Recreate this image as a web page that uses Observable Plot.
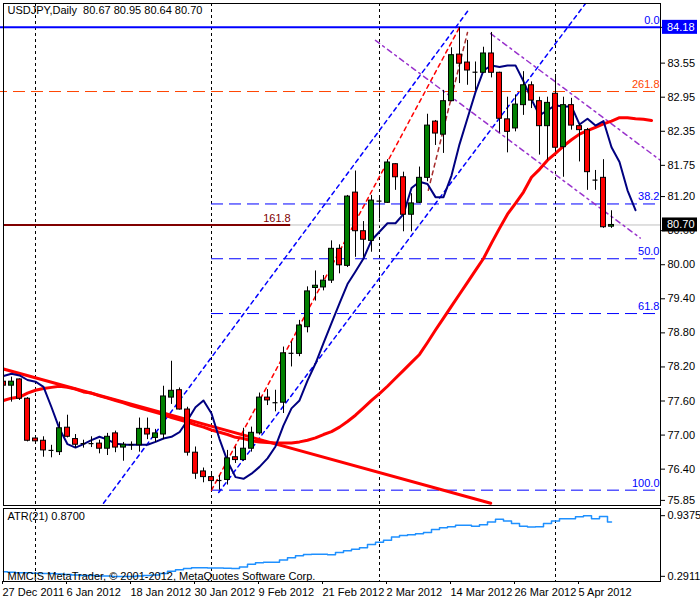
<!DOCTYPE html>
<html><head><meta charset="utf-8">
<script src="https://cdn.jsdelivr.net/npm/d3@7"></script>
<script src="https://cdn.jsdelivr.net/npm/@observablehq/plot@0.6"></script>
<style>
body{margin:0;background:#fff;}
#wrap{position:relative;width:700px;height:600px;background:#fff;}
#wrap svg{position:absolute;left:0;overflow:visible;}
</style></head><body><div id="wrap"></div>
<script>
// ---- data (bar index 0 = 27 Dec 2011, daily bars) ----
const opens  = [77.94,77.87,77.98,77.64,76.94,76.90,76.73,76.70,77.13,76.93,76.85,76.85,76.85,76.76,77.03,76.78,76.83,76.82,77.11,76.95,77.01,77.66,77.79,77.45,76.69,76.36,76.26,76.20,76.21,76.61,76.56,76.76,77.03,77.66,77.57,77.57,78.44,78.43,78.90,79.59,79.60,79.72,80.28,79.98,81.27,80.59,80.42,81.12,81.09,81.77,81.54,80.88,81.09,81.53,82.52,82.29,82.88,83.70,83.56,83.39,83.38,83.72,83.38,82.56,82.40,82.81,83.16,82.88,82.44,83.01,82.07,82.81,82.44,82.37,81.49,81.53,80.67];
const highs  = [78.00,78.02,77.99,77.66,76.97,76.97,76.82,77.23,77.35,77.01,76.91,76.97,76.91,77.03,77.07,76.87,76.88,77.30,77.30,77.10,77.86,78.30,77.83,77.49,76.79,76.42,76.34,76.29,76.73,76.79,77.12,77.14,77.74,77.80,77.79,78.55,78.64,79.02,79.61,79.89,79.81,80.42,80.35,81.22,81.65,80.76,81.22,81.20,81.85,81.78,81.63,81.25,81.72,82.65,82.54,83.07,83.82,84.18,83.95,83.57,83.83,84.09,83.39,82.95,82.99,83.40,83.22,82.95,82.95,83.35,82.95,82.93,82.47,82.40,81.66,81.85,80.95];
const lows   = [77.75,77.58,77.61,76.88,76.87,76.61,76.60,76.64,76.95,76.77,76.77,76.78,76.67,76.64,76.69,76.54,76.73,76.70,76.92,76.87,76.92,77.54,77.44,76.63,76.22,76.16,76.03,76.03,76.12,76.50,76.54,76.70,77.00,77.52,77.41,77.38,78.20,78.38,78.80,79.36,79.54,79.67,79.84,79.95,80.13,80.13,80.22,80.80,81.08,81.31,80.58,80.58,81.08,81.46,82.10,81.96,82.87,83.19,83.16,83.07,83.37,83.29,82.32,81.97,82.34,82.63,82.75,81.93,81.84,81.98,81.54,82.37,81.81,81.31,81.31,80.64,80.64];
const closes = [77.87,77.94,77.64,76.90,76.89,76.73,76.73,77.12,76.97,76.83,76.85,76.85,76.76,76.97,76.78,76.83,76.83,77.11,77.01,77.03,77.68,77.78,77.45,76.69,76.32,76.26,76.19,76.20,76.59,76.56,76.76,77.04,77.66,77.61,77.57,78.44,78.44,78.93,79.53,79.63,79.72,80.28,79.99,81.20,80.59,80.44,81.13,81.12,81.80,81.54,80.88,81.08,81.53,82.45,82.31,82.88,83.69,83.54,83.42,83.39,83.72,83.38,82.57,82.34,82.82,83.16,82.89,82.44,82.85,82.06,82.81,82.45,82.37,81.63,81.49,80.66,80.70];
// moving averages as drawn (already shifted forward on the chart)
const fastMA = [78.04,78.08,78.05,77.97,77.94,77.85,77.49,77.11,76.84,76.78,76.84,76.91,76.97,76.92,76.85,76.83,76.83,76.83,76.83,76.88,76.94,76.97,77.05,77.26,77.49,77.61,77.38,76.93,76.54,76.26,76.23,76.32,76.44,76.59,76.80,77.17,77.47,77.61,77.96,78.26,78.62,78.97,79.32,79.66,79.88,80.11,80.43,80.58,80.73,80.73,80.89,81.35,81.46,81.42,81.19,81.19,81.57,82.12,82.58,83.04,83.42,83.51,83.48,83.51,83.51,83.23,82.91,82.63,82.72,82.81,82.78,82.79,82.47,82.57,82.45,82.53,82.07,81.81,81.31,80.96];
const slowMA = [77.61,77.65,77.67,77.74,77.79,77.82,77.84,77.86,77.84,77.81,77.76,77.74,77.69,77.65,77.61,77.57,77.52,77.48,77.44,77.40,77.36,77.31,77.27,77.23,77.18,77.14,77.09,77.05,77.01,76.96,76.94,76.90,76.88,76.87,76.86,76.86,76.86,76.88,76.91,76.95,77.01,77.06,77.14,77.24,77.35,77.48,77.61,77.73,77.86,78.00,78.14,78.28,78.42,78.63,78.85,79.06,79.27,79.48,79.69,79.90,80.11,80.38,80.64,80.89,81.08,81.28,81.54,81.68,81.84,81.96,82.09,82.20,82.30,82.36,82.42,82.48,82.53,82.59,82.59,82.57,82.56,82.54];
const atr = [0.34,0.335,0.33,0.33,0.325,0.32,0.32,0.315,0.31,0.305,0.30,0.30,0.295,0.295,0.29,0.29,0.29,0.295,0.30,0.305,0.32,0.345,0.36,0.375,0.383,0.383,0.38,0.38,0.378,0.375,0.39,0.42,0.435,0.44,0.442,0.465,0.49,0.51,0.525,0.527,0.527,0.52,0.545,0.565,0.58,0.595,0.63,0.655,0.675,0.71,0.725,0.735,0.745,0.757,0.79,0.81,0.82,0.835,0.835,0.825,0.84,0.87,0.90,0.88,0.855,0.825,0.816,0.82,0.855,0.88,0.905,0.905,0.925,0.9375,0.905,0.93,0.87];
const yTicks = [84.18,83.55,82.95,82.35,81.75,81.20,80.60,80.00,79.40,78.80,78.20,77.60,77.00,76.40,75.85];
const dateTickBars = [0,8,16,24,32,40,48,56,64,72];
const dateLabels = ["27 Dec 2011","6 Jan 2012","18 Jan 2012","30 Jan 2012","9 Feb 2012","21 Feb 2012","2 Mar 2012","14 Mar 2012","26 Mar 2012","5 Apr 2012"];
const monthSeparators = [4,26,47,69];
// Fibonacci levels: label, price, first bar
const fibLabels = ["0.0","38.2","50.0","61.8","100.0","261.8"];
const fibPrices = [84.18,81.07,80.105,79.14,76.03,83.05];
const fibFrom   = [-1,26,26,26,26,-1];
const fib2Label = "161.8", fib2Price = 80.70, fib2To = 35.9;
// drawn lines: [bar1, price1, bar2, price2]
const trendRed   = [-0.4,78.18,60.9,75.80];
const channelA   = [12.5,75.80,58.1,84.48];
const channelB   = [26.9,75.99,72.75,84.60];
const fibConnect = [26,76.03,57,84.18];
const brownLine  = [53.1,81.31,58,84.09];
const purple1    = [60.9,84.07,82.1,81.84];
const purple2    = [46.5,83.95,79.6,80.47];
const atrMaxLabel = 0.9375, atrMinLabel = 0.2911, atrNow = 0.8700;

// ---- build ----
const FONT = "Liberation Sans, Arial, sans-serif";
const bars = opens.map((o,i)=>({i,o,h:highs[i],l:lows[i],c:closes[i]}));
const upBars = bars.filter(d=>d.c>d.o), dnBars = bars.filter(d=>d.c<d.o), dojis = bars.filter(d=>d.c===d.o);
const seg = a => [{x:a[0],y:a[1]},{x:a[2],y:a[3]}];
const xDom = [0,82.125];
const last = bars[bars.length-1];
const fib = fibLabels.map((t,k)=>({t,v:fibPrices[k],from:fibFrom[k]}));
const blueFib = fib.filter(d=>d.t!=="261.8" && d.t!=="0.0");

const main = Plot.plot({
  width:700, height:506, marginTop:3, marginBottom:1, marginLeft:3, marginRight:40,
  x:{domain:xDom, axis:null},
  y:{domain:[75.76,84.60]},
  style:{fontFamily:FONT, fontSize:"10px", background:"white", overflow:"visible"},
  marks:[
    Plot.ruleX(monthSeparators,{x:d=>d, stroke:"black", strokeDasharray:"3,3"}),
    Plot.ruleY([fib2Price],{x1:xDom[0], x2:xDom[1], stroke:"#c0c0c0"}),
    Plot.ruleY([fib2Price],{x1:xDom[0], x2:fib2To, stroke:"#800000", strokeWidth:2}),
    Plot.text([fib2Label],{x:fib2To, y:fib2Price, text:d=>d, textAnchor:"end", dy:-7, fill:"#800000", fontSize:11}),
    Plot.ruleY(blueFib,{y:"v", x1:"from", x2:xDom[1], stroke:"blue", strokeDasharray:"12,6"}),
    Plot.ruleY(fib.filter(d=>d.t==="261.8"),{y:"v", x1:"from", x2:xDom[1], stroke:"#ff4500", strokeDasharray:"12,6"}),
    Plot.ruleY(fib.filter(d=>d.t==="0.0"),{y:"v", x1:"from", x2:xDom[1], stroke:"blue", strokeWidth:2}),
    Plot.text(fib,{y:"v", x:xDom[1], text:"t", textAnchor:"end", dx:-1, dy:-7, fill:d=>d.t==="261.8"?"#ff4500":"blue", fontSize:11}),
    Plot.line(seg(channelA),{x:"x", y:"y", stroke:"blue", strokeDasharray:"4,4", clip:true}),
    Plot.line(seg(channelB),{x:"x", y:"y", stroke:"blue", strokeDasharray:"4,4", clip:true}),
    Plot.line(seg(fibConnect),{x:"x", y:"y", stroke:"red", strokeDasharray:"4,4", clip:true}),
    Plot.line(seg(brownLine),{x:"x", y:"y", stroke:"#a52a2a", strokeDasharray:"4,4", clip:true}),
    Plot.line(seg(purple1),{x:"x", y:"y", stroke:"#9932cc", strokeDasharray:"5,4,2,4", clip:true}),
    Plot.line(seg(purple2),{x:"x", y:"y", stroke:"#9932cc", strokeDasharray:"5,4,2,4", clip:true}),
    Plot.line(seg(trendRed),{x:"x", y:"y", stroke:"red", strokeWidth:3, clip:true}),
    Plot.line(slowMA.map((v,i)=>({i,v})),{x:"i", y:"v", stroke:"red", strokeWidth:3, clip:true}),
    Plot.line(fastMA.map((v,i)=>({i,v})),{x:"i", y:"v", stroke:"#000080", strokeWidth:2, clip:true}),
    Plot.ruleX(bars,{x:"i", y1:"l", y2:"h", stroke:"black", clip:true}),
    Plot.rect(upBars,{x1:d=>d.i-0.31, x2:d=>d.i+0.31, y1:"o", y2:"c", fill:"#008000", stroke:"black", clip:true}),
    Plot.rect(dnBars,{x1:d=>d.i-0.31, x2:d=>d.i+0.31, y1:"o", y2:"c", fill:"red", stroke:"black", clip:true}),
    Plot.ruleY(dojis,{y:"o", x1:d=>d.i-0.31, x2:d=>d.i+0.31, stroke:"black", strokeWidth:1.2, clip:true}),
    Plot.axisY(yTicks,{anchor:"right", tickSize:4, tickPadding:3, tickFormat:d=>d.toFixed(2), fontSize:11, label:null}),
    Plot.frame({stroke:"black"}),
    Plot.text([`USDJPY,Daily  ${last.o.toFixed(2)} ${last.h.toFixed(2)} ${last.l.toFixed(2)} ${last.c.toFixed(2)}`],
      {frameAnchor:"top-left", text:d=>d, dx:4, dy:3, fontSize:11, fill:"black", lineAnchor:"top"})
  ]
});
main.style.top = "0px";
document.getElementById("wrap").appendChild(main);
// price tags on the right axis
const ys = main.scale("y");
function tag(v, bg){
  const y = ys.apply(v);
  const g = d3.select(main).append("g");
  g.append("rect").attr("x",662).attr("y",y-7).attr("width",35).attr("height",14).attr("fill",bg);
  g.append("text").attr("x",667).attr("y",y+4).attr("text-anchor","start").attr("fill","white")
    .attr("font-family",FONT).attr("font-size",11).text(v.toFixed(2));
}
tag(fibPrices[0],"blue");
tag(last.c,"black");

// ATR sub-window with date axis
const atrPlot = Plot.plot({
  width:700, height:94, marginTop:2, marginBottom:19, marginLeft:3, marginRight:40,
  x:{domain:xDom},
  y:{domain:[0.236,1.014]},
  style:{fontFamily:FONT, fontSize:"11px", background:"white", overflow:"visible"},
  marks:[
    Plot.ruleX(monthSeparators,{x:d=>d, stroke:"black", strokeDasharray:"3,3"}),
    Plot.line(atr.map((v,i)=>({i,v})),{x:"i", y:"v", stroke:"#1e90ff", curve:"step"}),
    Plot.axisY([atrMaxLabel, atrMinLabel],{anchor:"right", tickSize:4, tickPadding:3, tickFormat:d=>d.toFixed(4), fontSize:11, label:null}),
    Plot.axisX(dateTickBars,{anchor:"bottom", tickSize:3, tickPadding:4, textAnchor:"start", dx:-1, tickFormat:(d,k)=>dateLabels[k], fontSize:11, label:null}),
    Plot.frame({stroke:"black"}),
    Plot.text([`ATR(21) ${atrNow.toFixed(4)}`],{frameAnchor:"top-left", text:d=>d, dx:4, dy:4, lineAnchor:"top", fontSize:11}),
    Plot.text(["MMCIS MetaTrader, © 2001-2012, MetaQuotes Software Corp."],{frameAnchor:"bottom-left", text:d=>d, dx:4, dy:-2, lineAnchor:"bottom", fontSize:11})
  ]
});
atrPlot.style.top = "506px";
document.getElementById("wrap").appendChild(atrPlot);
</script></body></html>
